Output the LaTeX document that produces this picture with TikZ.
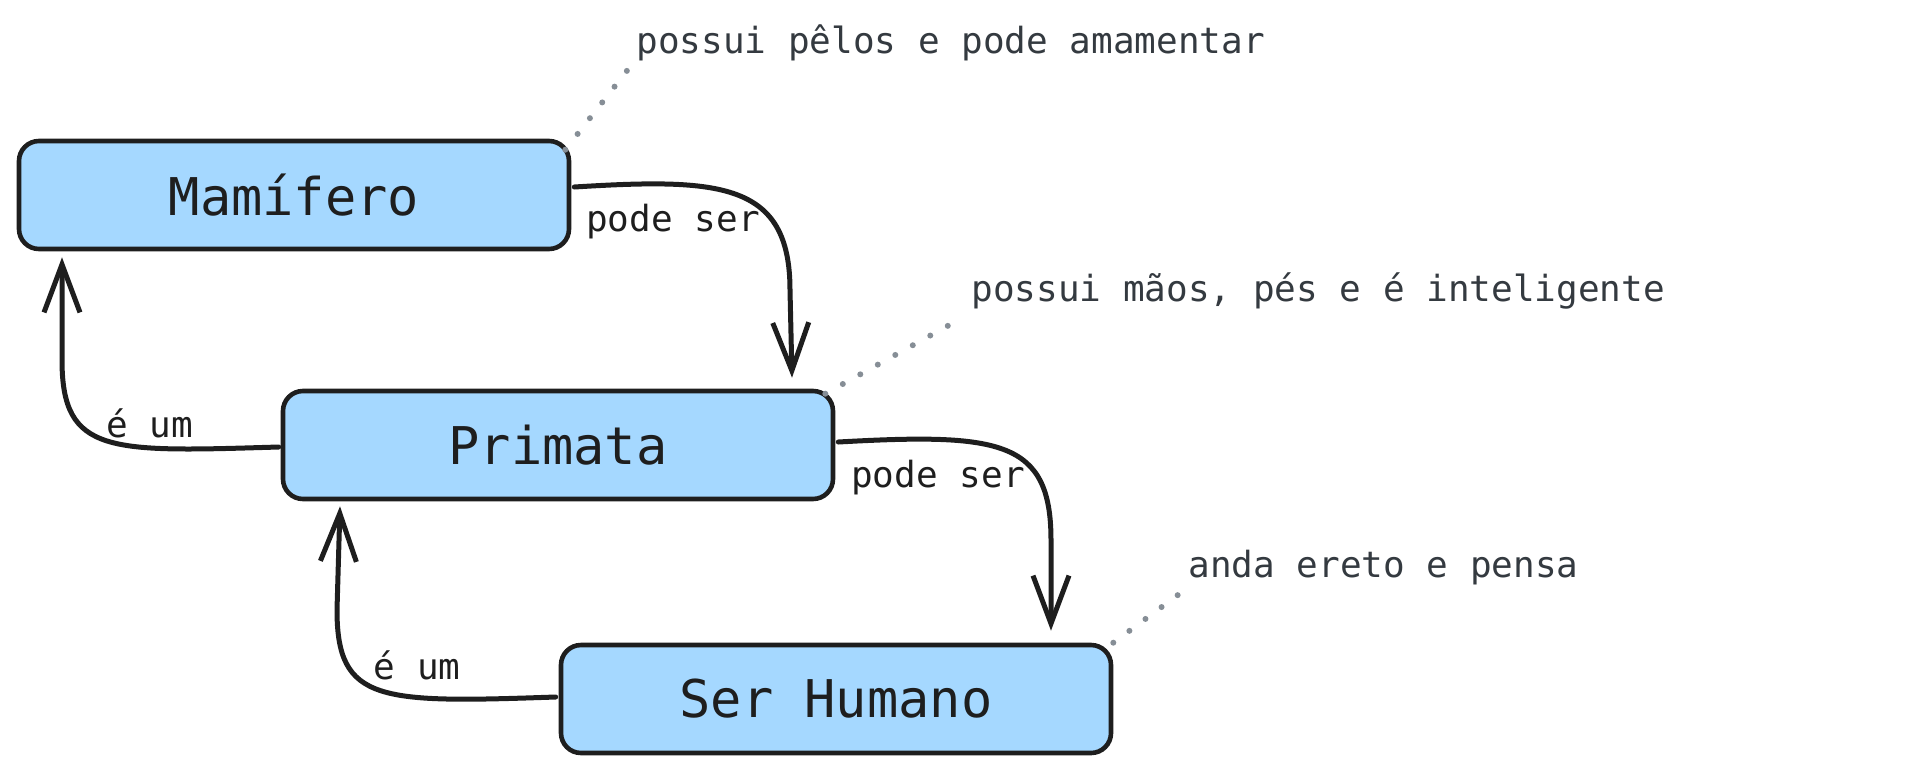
\documentclass[tikz,border=0pt]{standalone}
\usepackage{fontspec}
\newfontfamily\handfont{DejaVu Sans Mono}
\usetikzlibrary{arrows.meta,calc}
\definecolor{boxblue}{HTML}{A5D8FF}
\definecolor{ink}{HTML}{1E1E1E}
\definecolor{notegray}{HTML}{343A40}
\definecolor{dotgray}{HTML}{868E96}

\begin{document}
\begin{tikzpicture}[x=0.5pt, y=-0.5pt,
	box/.style={draw=ink, line width=2.3pt, fill=boxblue, rounded corners=10pt, minimum width=275pt, minimum height=54pt, font=\handfont\fontsize{26}{30}\selectfont, text=ink},
	lbl/.style={font=\handfont\fontsize{18}{22}\selectfont, text=ink},
	note/.style={font=\handfont\fontsize{18}{22}\selectfont, text=notegray, anchor=west, inner sep=4pt, text height=13pt, text depth=4pt},
	link/.style={draw=ink, line width=2.5pt, line cap=round, -{Straight Barb[length=24pt, width=18pt]}},
	pin/.style={draw=dotgray, line width=3pt, line cap=round, dash pattern=on 0pt off 10pt}]
			\useasboundingbox (0,0) rectangle (1911,772);
			\node[box] (mam) at (294,195) {Mamífero};
			\node[box] (prim) at (558,445) {Primata};
			\node[box] (hum) at (836,699) {Ser Humano};
			% anotacoes
			\node[note] (n1) at (628,44) {possui pêlos e pode amamentar};
			\node[note] (n2) at (963,292) {possui mãos, pés e é inteligente};
			\node[note] (n3) at (1180,568) {anda ereto e pensa};
			\draw[pin] ($(mam.north east)+(-6,11)$) -- (n1.south west);
			\draw[pin] ($(prim.north east)+(-10,5)$) -- (n2.south west);
			\draw[pin] (hum.north east) -- (n3.south west);
			% relacoes
			\draw[link] ($(mam.east)+(3,-8)$) .. controls (720,178) and (790,182) .. (790,290) -- ($(prim.north)+(234,-11)$);
			\draw[link] ($(prim.east)+(3,-3)$) .. controls (1000,433) and (1051,440) .. (1051,540) -- ($(hum.north)+(215,-12)$);
			\draw[link] ($(prim.west)+(-2,2)$) .. controls (110,452) and (62,455) .. (62,360) -- ($(mam.south)+(-232,6)$);
			\draw[link] ($(hum.west)+(-3,-2)$) .. controls (380,703) and (337,703) .. (337,610) -- ($(prim.south)+(-218,5)$);
			\node[lbl] (ps1) at (673,222) {pode ser};
			\node[lbl] (ps2) at (938,478) {pode ser};
			\node[lbl] (eu1) at (150,423) {é um};
			\node[lbl] (eu2) at (417,665) {é um};
		\end{tikzpicture}
\end{document}
